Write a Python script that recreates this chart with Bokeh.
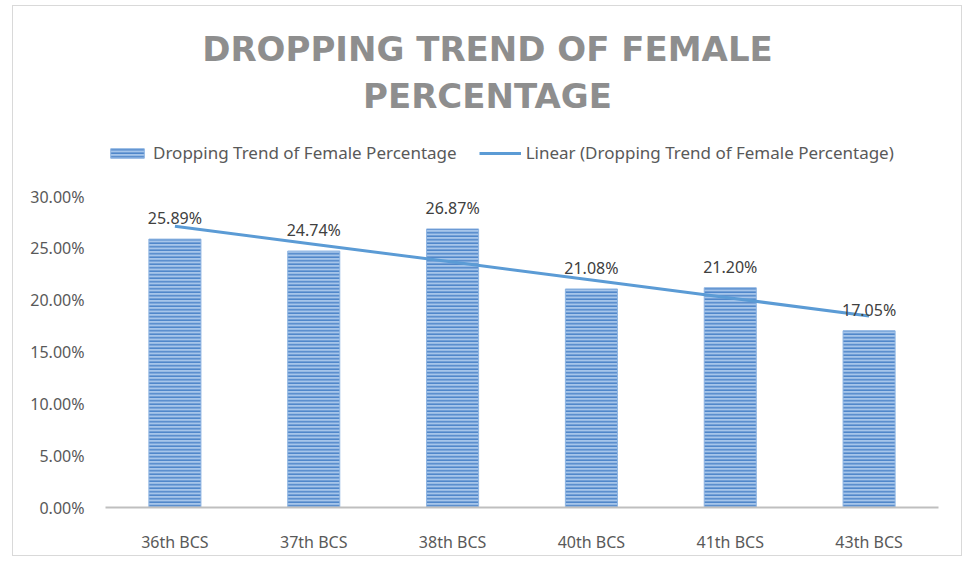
from bokeh.plotting import figure
from bokeh.models import (ColumnDataSource, Range1d, FactorRange, LabelSet, Label,
                          Legend, LegendItem, PrintfTickFormatter)
from bokeh.core.properties import value
from bokeh.embed import file_html
from bokeh.resources import INLINE
import numpy as np

categories = ["36th BCS", "37th BCS", "38th BCS", "40th BCS", "41th BCS", "43th BCS"]
female_pct = [25.89, 24.74, 26.87, 21.08, 21.20, 17.05]
y_ticks = [0, 5, 10, 15, 20, 25, 30]

# linear trend (least squares fit of the series, like Excel's linear trendline)
idx = np.arange(1, len(female_pct) + 1)
slope, intercept = np.polyfit(idx, female_pct, 1)
trend = list(slope * idx + intercept)

labels = [f"{v:.2f}%" for v in female_pct]
src = ColumnDataSource(dict(cat=categories, val=female_pct, lab=labels, trend=trend))

FONT = "Noto Sans"

# frame reaches the top of the canvas so that title and legend (drawn inside it) are not clipped;
# the 30% tick sits 311px above the baseline, the frame is 501px tall
Y_TOP = 30 * 501 / 311

p = figure(width=950, height=551, x_range=FactorRange(*categories, range_padding=0),
           y_range=Range1d(0, Y_TOP), output_backend="svg", toolbar_location=None,
           min_border_left=92, min_border_right=25, min_border_top=0, min_border_bottom=50)
p.styles = {"border": "1px solid #d9d9d9", "margin-left": "12px", "margin-top": "5px"}
p.outline_line_color = None
p.background_fill_color = "white"
p.border_fill_color = "white"
p.xgrid.visible = False
p.ygrid.visible = False

bars = p.vbar(x="cat", top="val", width=0.375, source=src,
              fill_color="#a6c5ea", line_color="#8fb5e2", line_width=1,
              hatch_pattern="-", hatch_color="#4f86c9", hatch_scale=3.5, hatch_weight=1.6)
tline = p.line(x="cat", y="trend", source=src, line_color="#5b9bd5", line_width=3)

lbls = LabelSet(x="cat", y="val", text="lab", source=src, y_offset=15,
                text_align="center", text_baseline="alphabetic",
                text_font=value(FONT), text_font_size="16px", text_color="#404040")
p.add_layout(lbls)

p.yaxis.ticker = y_ticks
p.yaxis.formatter = PrintfTickFormatter(format="%.2f%%")
p.yaxis.axis_line_color = None
p.yaxis.major_tick_line_color = None
p.yaxis.minor_tick_line_color = None
p.yaxis.major_label_text_font = FONT
p.yaxis.major_label_text_font_size = "16px"
p.yaxis.major_label_text_color = "#595959"
p.yaxis.major_label_standoff = 15

p.xaxis.axis_line_color = "#bfbfbf"
p.xaxis.axis_line_width = 2
p.xaxis.major_tick_line_color = None
p.xaxis.minor_tick_line_color = None
p.xaxis.major_label_text_font = FONT
p.xaxis.major_label_text_font_size = "16px"
p.xaxis.major_label_text_color = "#595959"
p.xaxis.major_label_standoff = 17

for txt, yy in [("DROPPING TREND OF FEMALE", 459), ("PERCENTAGE", 412)]:
    p.add_layout(Label(x=382, y=yy, x_units="screen", y_units="screen", text=txt,
                       text_align="center", text_baseline="middle",
                       text_font="DejaVu Sans", text_font_style="bold",
                       text_font_size="34px", text_color="#8e8e8e"))

legend = Legend(items=[LegendItem(label="Dropping Trend of Female Percentage", renderers=[bars]),
                       LegendItem(label="Linear (Dropping Trend of Female Percentage)", renderers=[tline])],
                orientation="horizontal", location=(1, 343),
                glyph_width=42, glyph_height=12, label_standoff=5, spacing=22,
                label_text_font=FONT, label_text_font_size="17px", label_text_color="#595959",
                background_fill_alpha=0, border_line_color=None, padding=0, margin=0)
p.add_layout(legend)

open("out.html", "w").write(file_html(p, INLINE))
